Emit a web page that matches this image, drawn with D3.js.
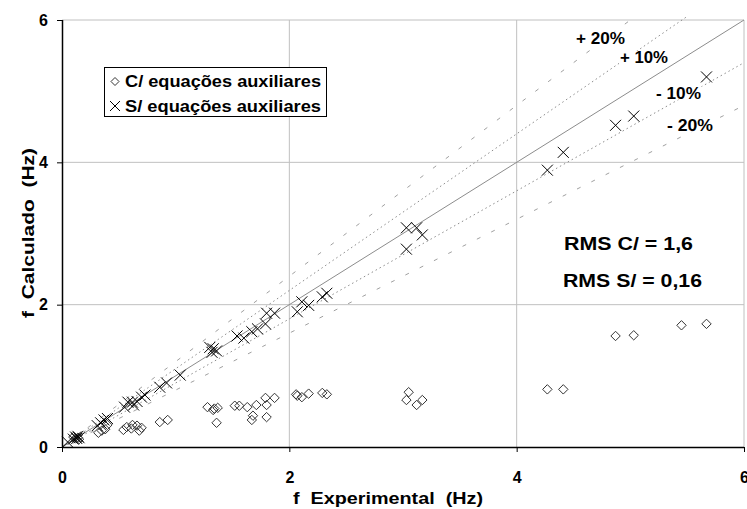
<!DOCTYPE html>
<html><head><meta charset="utf-8">
<script src="https://cdn.jsdelivr.net/npm/d3@7"></script>
<style>
body{margin:0;background:#fff;}
text{font-family:"Liberation Sans",Arial,sans-serif;font-weight:bold;fill:#000;}
</style></head>
<body><svg id="c" width="747" height="509"></svg>
<script>
// Data
const cExp  = [0.10,0.12,0.14,0.15,0.32,0.35,0.38,0.40,0.54,0.57,0.61,0.62,0.66,0.70,0.68,0.86,0.93,1.28,1.33,1.37,1.34,1.36,1.52,1.56,1.63,1.71,1.68,1.67,1.79,1.80,1.80,1.87,2.06,2.07,2.11,2.17,2.29,2.33,3.05,3.03,3.12,3.17,4.27,4.41,4.87,5.03,5.45,5.67];
const cCalc = [0.14,0.12,0.13,0.11,0.20,0.23,0.25,0.31,0.24,0.28,0.26,0.31,0.30,0.27,0.23,0.35,0.38,0.56,0.52,0.55,0.54,0.34,0.58,0.58,0.56,0.59,0.44,0.38,0.69,0.59,0.42,0.69,0.74,0.72,0.70,0.75,0.76,0.74,0.77,0.66,0.59,0.66,0.81,0.81,1.56,1.57,1.71,1.73];
const sExp  = [0.05,0.10,0.12,0.13,0.14,0.15,0.31,0.34,0.37,0.40,0.55,0.58,0.62,0.63,0.66,0.70,0.73,0.86,0.92,1.04,1.30,1.33,1.36,1.32,1.54,1.60,1.67,1.72,1.79,1.80,1.87,2.07,2.11,2.17,2.29,2.33,3.03,3.12,3.17,3.03,4.27,4.41,4.87,5.03,5.67];
const sCalc = [0.07,0.11,0.14,0.12,0.15,0.13,0.30,0.34,0.38,0.40,0.56,0.63,0.63,0.59,0.64,0.70,0.73,0.84,0.90,1.01,1.40,1.38,1.35,1.33,1.56,1.53,1.62,1.66,1.73,1.88,1.88,1.90,2.04,1.99,2.11,2.16,3.08,3.08,2.98,2.78,3.89,4.14,4.52,4.65,5.20];
const tickVals = [0,2,4,6];
const seriesNames = ["C/ equações auxiliares","S/ equações auxiliares"];
const refLines = [{k:1.0,label:null,style:"solid"},{k:1.1,label:"+ 10%",style:"dot"},{k:0.9,label:"- 10%",style:"dot"},{k:1.2,label:"+ 20%",style:"dash"},{k:0.8,label:"- 20%",style:"dash"}];
const rmsTexts = ["RMS C/ = 1,6","RMS S/ = 0,16"];

const svg = d3.select("#c");
const L=62,R=744,T=20,B=447;
const x = d3.scaleLinear().domain([0,6]).range([L,R]);
const y = d3.scaleLinear().domain([0,6]).range([B,T]);

function fitText(t,w){ t.attr("textLength",w).attr("lengthAdjust","spacingAndGlyphs"); return t; }

// grid
svg.append("g").selectAll("line").data(tickVals.filter(d=>d>0)).join("line")
  .attr("x1",L).attr("x2",R).attr("y1",d=>y(d)).attr("y2",d=>y(d)).attr("stroke","#c0c0c0").attr("stroke-width",1);
svg.append("g").selectAll("line").data(tickVals.filter(d=>d>0)).join("line")
  .attr("y1",T).attr("y2",B).attr("x1",d=>x(d)).attr("x2",d=>x(d)).attr("stroke","#c0c0c0").attr("stroke-width",1);

// clip
svg.append("clipPath").attr("id","clip").append("rect").attr("x",L).attr("y",T-4).attr("width",R-L).attr("height",B-T+4);

// reference lines
const gl = svg.append("g").attr("clip-path","url(#clip)");
refLines.forEach(r=>{
  const xe = Math.min(6, 6.05/r.k);
  const ln = gl.append("line").attr("x1",x(0)).attr("y1",y(0)).attr("x2",x(xe)).attr("y2",y(r.k*xe))
    .attr("stroke","#8c8c8c").attr("stroke-width",1);
  if(r.style==="dot") ln.attr("stroke-dasharray","1.5,3");
  if(r.style==="dash") ln.attr("stroke-dasharray","4,12").attr("stroke","#a0a0a0");
});

// axes
const xa = svg.append("g").attr("transform",`translate(0,${B})`)
  .call(d3.axisBottom(x).tickValues(tickVals).tickSize(5).tickPadding(20).tickFormat(d3.format("d")));
const ya = svg.append("g").attr("transform",`translate(${L},0)`)
  .call(d3.axisLeft(y).tickValues(tickVals).tickSize(5).tickPadding(9).tickFormat(d3.format("d")));
[xa,ya].forEach(a=>{a.select(".domain").remove();a.selectAll("line").attr("stroke","#000");a.selectAll("text").style("font-size","16px").style("font-family","Liberation Sans, Arial").style("font-weight","bold").attr("fill","#000");});
svg.append("line").attr("x1",L).attr("x2",R).attr("y1",B+0.5).attr("y2",B+0.5).attr("stroke","#000").attr("stroke-width",1.5);
svg.append("line").attr("x1",L+0.5).attr("x2",L+0.5).attr("y1",T).attr("y2",B).attr("stroke","#000").attr("stroke-width",1.5);

// diamonds
const dg = svg.append("g");
cExp.forEach((v,i)=>{
  const cx=x(v),cy=y(cCalc[i]),s=4.7;
  dg.append("path").attr("d",`M${cx},${cy-s}L${cx+s},${cy}L${cx},${cy+s}L${cx-s},${cy}Z`)
    .attr("fill","none").attr("stroke","#333").attr("stroke-width",1);
});
// crosses
const cg = svg.append("g");
sExp.forEach((v,i)=>{
  const cx=x(v),cy=y(sCalc[i]),s=5.5;
  cg.append("path").attr("d",`M${cx-s},${cy-s}L${cx+s},${cy+s}M${cx-s},${cy+s}L${cx+s},${cy-s}`)
    .attr("stroke","#000").attr("stroke-width",1);
});

// percent labels
const lblPos = {"+ 20%":[576,38,49],"+ 10%":[620,57.5,48],"- 10%":[656,93,45],"- 20%":[667,125,46]};
refLines.filter(r=>r.label).forEach(r=>{
  const p=lblPos[r.label];
  const t=fitText(svg.append("text").attr("x",p[0]).attr("y",p[1]).attr("dy","0.35em").style("font-size","16px").text(r.label),p[2]);
  const bb=t.node().getBBox();
  svg.insert("rect",()=>t.node()).attr("x",bb.x-1).attr("y",bb.y+2).attr("width",bb.width+2).attr("height",bb.height-4).attr("fill","#fff");
});

// legend
const lg = svg.append("g");
lg.append("rect").attr("x",104.5).attr("y",67.5).attr("width",222).attr("height",49).attr("fill","#fff").attr("stroke","#000").attr("stroke-width",1);
seriesNames.forEach((n,i)=>{
  const cy=81.5+i*24.5, cx=115;
  if(i===0) lg.append("path").attr("d",`M${cx},${cy-4}L${cx+4},${cy}L${cx},${cy+4}L${cx-4},${cy}Z`).attr("fill","none").attr("stroke","#333");
  else lg.append("path").attr("d",`M${cx-5},${cy-5}L${cx+5},${cy+5}M${cx-5},${cy+5}L${cx+5},${cy-5}`).attr("stroke","#000");
  fitText(lg.append("text").attr("x",125).attr("y",cy).attr("dy","0.36em").style("font-size","16px").text(n),196);
});

// RMS
const rmsPos=[[564,243.5,129],[563,281,139]];
rmsTexts.forEach((t,i)=>{
  fitText(svg.append("text").attr("x",rmsPos[i][0]).attr("y",rmsPos[i][1]).attr("dy","0.36em").style("font-size","17.5px").text(t),rmsPos[i][2]);
});

// axis titles
fitText(svg.append("text").attr("x",293).attr("y",498).attr("dy","0.36em").style("font-size","16px").style("white-space","pre").text("f  Experimental  (Hz)"),190);
fitText(svg.append("text").attr("transform","translate(28,318) rotate(-90)").attr("dy","0.36em").style("font-size","16px").style("white-space","pre").text("f  Calculado  (Hz)"),170);
</script></body></html>
